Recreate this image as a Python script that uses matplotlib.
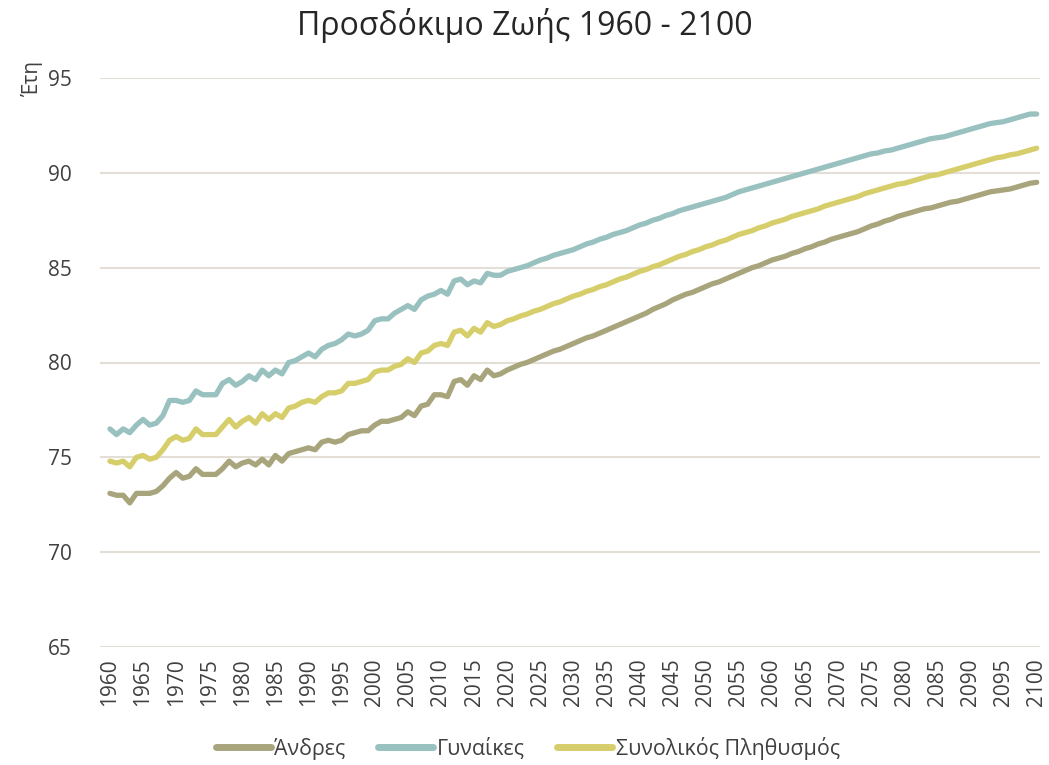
import matplotlib
matplotlib.use("Agg")
import matplotlib.pyplot as plt

plt.rcParams['font.family'] = ['Open Sans', 'DejaVu Sans']

years = list(range(1960, 2101))

men = [73.1, 73.0, 73.0, 72.6, 73.1, 73.1, 73.1, 73.2, 73.5, 73.9,
       74.2, 73.9, 74.0, 74.4, 74.1, 74.1, 74.1, 74.4, 74.8, 74.5,
       74.7, 74.8, 74.6, 74.9, 74.6, 75.1, 74.8, 75.2, 75.3, 75.4,
       75.5, 75.4, 75.8, 75.9, 75.8, 75.9, 76.2, 76.3, 76.4, 76.4,
       76.7, 76.9, 76.9, 77.0, 77.1, 77.4, 77.2, 77.7, 77.8, 78.3,
       78.3, 78.2, 79.0, 79.1, 78.8, 79.3, 79.1, 79.6, 79.3, 79.4,
       79.6, 79.75, 79.9, 80.0, 80.15, 80.3, 80.45, 80.6, 80.7, 80.85,
       81.0, 81.15, 81.3, 81.4, 81.55, 81.7, 81.85, 82.0, 82.15, 82.3,
       82.45, 82.6, 82.8, 82.95, 83.1, 83.3, 83.45, 83.6, 83.7, 83.85,
       84.0, 84.15, 84.25, 84.4, 84.55, 84.7, 84.85, 85.0, 85.1, 85.25,
       85.4, 85.5, 85.6, 85.75, 85.85, 86.0, 86.1, 86.25, 86.35, 86.5,
       86.6, 86.7, 86.8, 86.9, 87.05, 87.2, 87.3, 87.45, 87.55, 87.7,
       87.8, 87.9, 88.0, 88.1, 88.15, 88.25, 88.35, 88.45, 88.5, 88.6,
       88.7, 88.8, 88.9, 89.0, 89.05, 89.1, 89.15, 89.25, 89.35, 89.45,
       89.5]

women = [76.5, 76.2, 76.5, 76.3, 76.7, 77.0, 76.7, 76.8, 77.2, 78.0,
         78.0, 77.9, 78.0, 78.5, 78.3, 78.3, 78.3, 78.9, 79.1, 78.8,
         79.0, 79.3, 79.1, 79.6, 79.3, 79.6, 79.4, 80.0, 80.1, 80.3,
         80.5, 80.3, 80.7, 80.9, 81.0, 81.2, 81.5, 81.4, 81.5, 81.7,
         82.2, 82.3, 82.3, 82.6, 82.8, 83.0, 82.8, 83.3, 83.5, 83.6,
         83.8, 83.6, 84.3, 84.4, 84.1, 84.3, 84.2, 84.7, 84.6, 84.6,
         84.8, 84.9, 85.0, 85.1, 85.25, 85.4, 85.5, 85.65, 85.75, 85.85,
         85.95, 86.1, 86.25, 86.35, 86.5, 86.6, 86.75, 86.85, 86.95, 87.1,
         87.25, 87.35, 87.5, 87.6, 87.75, 87.85, 88.0, 88.1, 88.2, 88.3,
         88.4, 88.5, 88.6, 88.7, 88.85, 89.0, 89.1, 89.2, 89.3, 89.4,
         89.5, 89.6, 89.7, 89.8, 89.9, 90.0, 90.1, 90.2, 90.3, 90.4,
         90.5, 90.6, 90.7, 90.8, 90.9, 91.0, 91.05, 91.15, 91.2, 91.3,
         91.4, 91.5, 91.6, 91.7, 91.8, 91.85, 91.9, 92.0, 92.1, 92.2,
         92.3, 92.4, 92.5, 92.6, 92.65, 92.7, 92.8, 92.9, 93.0, 93.1,
         93.1]

total = [74.8, 74.7, 74.8, 74.5, 75.0, 75.1, 74.9, 75.0, 75.4, 75.9,
         76.1, 75.9, 76.0, 76.5, 76.2, 76.2, 76.2, 76.6, 77.0, 76.6,
         76.9, 77.1, 76.8, 77.3, 77.0, 77.3, 77.1, 77.6, 77.7, 77.9,
         78.0, 77.9, 78.2, 78.4, 78.4, 78.5, 78.9, 78.9, 79.0, 79.1,
         79.5, 79.6, 79.6, 79.8, 79.9, 80.2, 80.0, 80.5, 80.6, 80.9,
         81.0, 80.9, 81.6, 81.7, 81.4, 81.8, 81.6, 82.1, 81.9, 82.0,
         82.2, 82.3, 82.45, 82.55, 82.7, 82.8, 82.95, 83.1, 83.2, 83.35,
         83.5, 83.6, 83.75, 83.85, 84.0, 84.1, 84.25, 84.4, 84.5, 84.65,
         84.8, 84.9, 85.05, 85.15, 85.3, 85.45, 85.6, 85.7, 85.85, 85.95,
         86.1, 86.2, 86.35, 86.45, 86.6, 86.75, 86.85, 86.95, 87.1, 87.2,
         87.35, 87.45, 87.55, 87.7, 87.8, 87.9, 88.0, 88.1, 88.25, 88.35,
         88.45, 88.55, 88.65, 88.75, 88.9, 89.0, 89.1, 89.2, 89.3, 89.4,
         89.45, 89.55, 89.65, 89.75, 89.85, 89.9, 90.0, 90.1, 90.2, 90.3,
         90.4, 90.5, 90.6, 90.7, 90.8, 90.85, 90.95, 91.0, 91.1, 91.2,
         91.3]

labels = ['Άνδρες', 'Γυναίκες', 'Συνολικός Πληθυσμός']
colors = ['#A8A47C', '#98C1BF', '#D6CE6A']
x_ticks = list(range(1960, 2101, 5))
y_ticks = [65, 70, 75, 80, 85, 90, 95]

fig = plt.figure(figsize=(10.49, 7.65), dpi=100)
ax = fig.add_axes([100/1049, 1-647/765, 940/1049, (647-78)/765])

for series, lab, col in zip([men, women, total], labels, colors):
    ax.plot(years, series, color=col, lw=3.8, label=lab,
            solid_capstyle='round', solid_joinstyle='round')

ax.set_xlim(1958.5, 2100.5)
ax.set_ylim(65, 95)
ax.set_yticks(y_ticks)
ax.set_xticks(x_ticks)
ax.set_xticklabels([str(v) for v in x_ticks], rotation=90)
ax.tick_params(axis='both', length=0, labelsize=15, colors='#404040')
ax.tick_params(axis='y', pad=20)
ax.tick_params(axis='x', pad=8)
ax.grid(axis='y', color='#E3DFD7', lw=1.5)
ax.set_axisbelow(True)
for s in ax.spines.values():
    s.set_visible(False)

fig.text(0.5, 0.967, 'Προσδόκιμο Ζωής 1960 - 2100', ha='center', va='center',
         fontsize=23, color='#262626')
fig.text(0.03, 0.922, 'Έτη', rotation=90, ha='center', va='top',
         fontsize=15, color='#404040')

leg = fig.legend(loc='center', bbox_to_anchor=(0.503, 0.022), ncol=3,
                 frameon=False, fontsize=15.4, handlelength=2.6,
                 columnspacing=1.5, handletextpad=0.15)
for t in leg.get_texts():
    t.set_color('#404040')
for h in leg.get_lines():
    h.set_linewidth(5)

fig.savefig('out.png', dpi=100)
